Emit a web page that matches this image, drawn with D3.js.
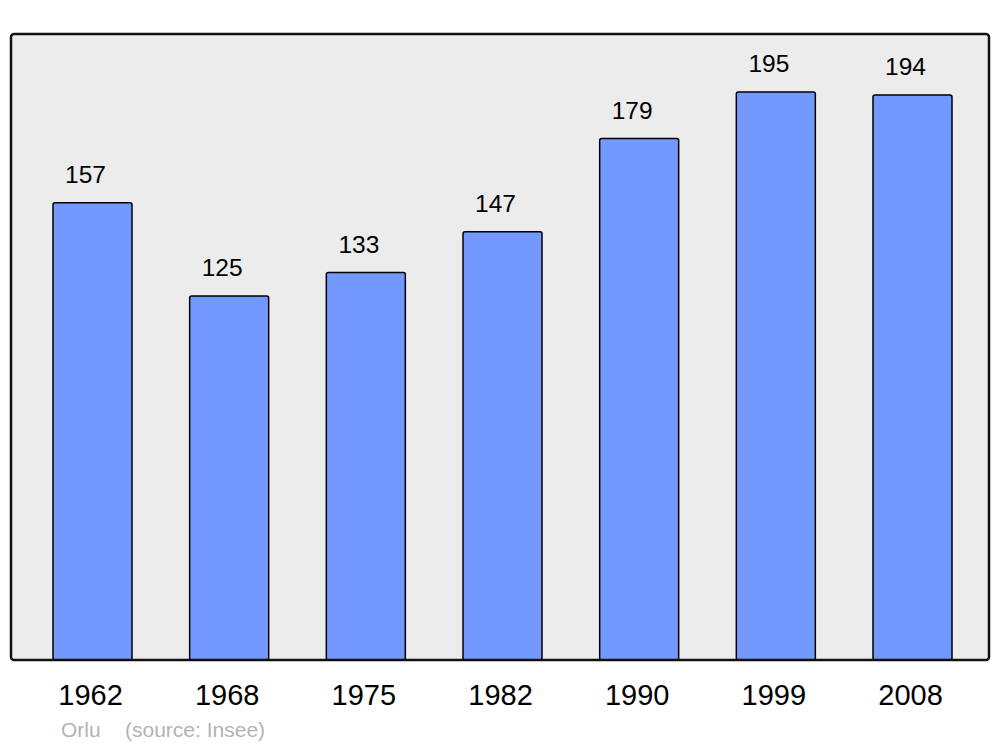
<!DOCTYPE html>
<html>
<head>
<meta charset="utf-8">
<script src="https://cdn.jsdelivr.net/npm/d3@7"></script>
<style>
  body { margin: 0; background: #fff; }
  svg { display: block; font-family: "Liberation Sans", Arial, sans-serif; }
</style>
</head>
<body>
<svg id="chart" width="1000" height="747"></svg>
<script>
// population by census year
var years = ["1962", "1968", "1975", "1982", "1990", "1999", "2008"];
var population = [157, 125, 133, 147, 179, 195, 194];
var placeName = "Orlu";
var sourceText = "(source: Insee)";

var svg = d3.select("#chart");

var panel = { left: 11, top: 34, right: 989, bottom: 660 };

// x: bars, y: population
var x = d3.scaleBand()
    .domain(years)
    .range([12, 993])
    .paddingInner(0.422)
    .paddingOuter(0.3);

var y = d3.scaleLinear()
    .domain([0, 195])
    .range([panel.bottom, 92]);

//grey background panel
svg.append("rect")
    .attr("x", panel.left)
    .attr("y", panel.top)
    .attr("width", panel.right - panel.left)
    .attr("height", panel.bottom - panel.top)
    .attr("rx", 3)
    .attr("fill", "#ececec");

var data = years.map((yr, i) => ({ year: yr, value: population[i] }));

svg.selectAll("rect.bar")
    .data(data)
    .enter()
    .append("rect")
    .attr("class", "bar")
    .attr("x", d => x(d.year))
    .attr("y", d => y(d.value))
    .attr("width", x.bandwidth())
    .attr("height", d => y(0) - y(d.value))
    .attr("rx", 2)
    .attr("fill", "#7399ff")
    .attr("stroke", "#000")
    .attr("stroke-width", 1.5);

// value labels above the bars
svg.selectAll("text.value")
    .data(data)
    .enter()
    .append("text")
    .attr("class", "value")
    .attr("x", d => x(d.year) + x.bandwidth() / 2 - 7)
    .attr("y", d => y(d.value) - 20)
    .attr("text-anchor", "middle")
    .attr("font-size", "24.5px")
    .attr("fill", "#000")
    .text(d => d.value);

//panel border on top of bars
svg.append("rect")
    .attr("x", panel.left)
    .attr("y", panel.top)
    .attr("width", panel.right - panel.left)
    .attr("height", panel.bottom - panel.top)
    .attr("rx", 3)
    .attr("fill", "none")
    .attr("stroke", "#111")
    .attr("stroke-width", 2.5);

// year labels
var xAxis = d3.axisBottom(x).tickSize(0).tickPadding(0);
var axisG = svg.append("g")
    .attr("transform", `translate(-2,${panel.bottom})`)
    .call(xAxis);
axisG.select(".domain").remove();
axisG.selectAll("text")
    .attr("dy", null)
    .attr("y", 45)
    .attr("font-size", "29px")
    .attr("font-family", "Liberation Sans, Arial, sans-serif")
    .attr("fill", "#000");

// footer
svg.append("text")
    .attr("x", 61)
    .attr("y", 737)
    .attr("font-size", "21px")
    .attr("fill", "#b3b3b3")
    .text(placeName);

svg.append("text")
    .attr("x", 125)
    .attr("y", 737)
    .attr("font-size", "21px")
    .attr("fill", "#b3b3b3")
    .text(sourceText);
</script>
</body>
</html>
